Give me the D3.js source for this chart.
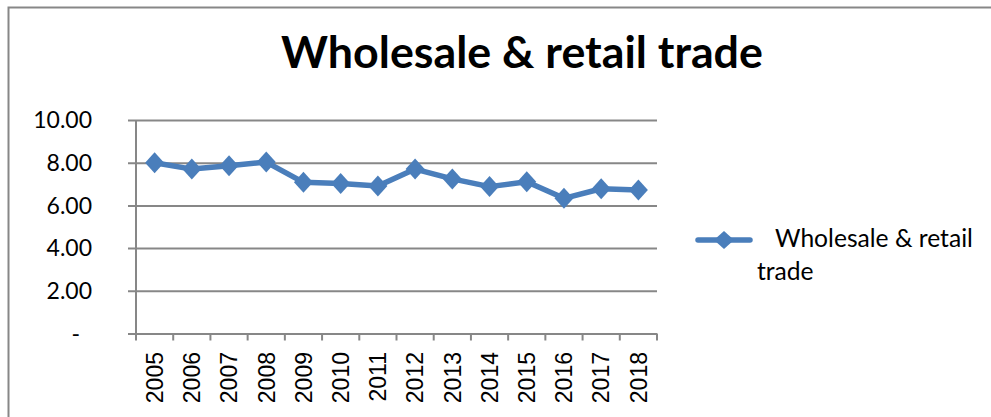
<!DOCTYPE html>
<html>
<head>
<meta charset="utf-8">
<script src="https://cdn.jsdelivr.net/npm/d3@7"></script>
<style>
    body { margin: 0; background: #fff; }
    svg { display: block; }
</style>
</head>
<body>
<svg id="chart" width="991" height="417"></svg>
<script>
'use strict';

// chart data
const years = ['2005', '2006', '2007', '2008', '2009', '2010', '2011',
    '2012', '2013', '2014', '2015', '2016', '2017', '2018'];
const tradeValues = [8.00, 7.70, 7.86, 8.03, 7.08, 7.03, 6.91,
    7.70, 7.24, 6.88, 7.11, 6.33, 6.78, 6.72];
const yTicks = [0, 2, 4, 6, 8, 10];
const seriesName = 'Wholesale & retail trade';
const chartTitle = 'Wholesale & retail trade';

const blue = '#4a7ebb';
const gray = '#878787';
const calibriLike = 'Lato, "Open Sans", sans-serif';
const arialLike = '"Liberation Sans", Arial, sans-serif';

const svg = d3.select('#chart');

// scale font so the text spans a given width
function fitWidth(sel, target) {
    const size = parseFloat(sel.attr('font-size'));
    const w = sel.node().getComputedTextLength();
    sel.attr('font-size', (size * target / w).toFixed(2));
}

// excel-style diamond, a bit taller than wide
function diamondPath(hw, hh) {
    return `M0,${-hh}L${hw},0L0,${hh}L${-hw},0Z`;
}

// outer frame (only top and left edges visible)
svg.append('path')
    .attr('d', 'M8.5,417 V7.5 H991')
    .attr('fill', 'none')
    .attr('stroke', gray)
    .attr('stroke-width', 2);

// title
const title = svg.append('text')
    .attr('x', 522)
    .attr('y', 67.5)
    .attr('text-anchor', 'middle')
    .attr('font-family', calibriLike)
    .attr('font-weight', 'bold')
    .attr('font-size', 38)
    .attr('fill', '#000')
    .text(chartTitle);
fitWidth(title, 482);

const plot = { left: 136, right: 657, top: 120, bottom: 333.5 };

const x = d3.scaleBand()
    .domain(years)
    .range([plot.left, plot.right]);

const y = d3.scaleLinear()
    .domain([0, 10])
    .range([plot.bottom, plot.top]);

// y axis with gridlines
const yAxis = svg.append('g')
    .attr('transform', `translate(${plot.left},0)`)
    .call(d3.axisLeft(y)
        .tickValues(yTicks)
        .tickSize(-(plot.right - plot.left))
        .tickPadding(44)
        .tickFormat((d) => d === 0 ? '-' : d3.format('.2f')(d)));

yAxis.select('.domain').remove();
yAxis.selectAll('.tick line')
    .attr('x1', -8)
    .attr('stroke', gray)
    .attr('stroke-width', 2);
yAxis.selectAll('.tick text')
    .attr('font-family', calibriLike)
    .attr('font-size', 23)
    .attr('fill', '#000')
    .attr('dy', '0.34em')
    .attr('dx', (d) => d === 0 ? -12 : 0);

// vertical axis line
svg.append('line')
    .attr('x1', plot.left).attr('x2', plot.left)
    .attr('y1', y(10)).attr('y2', y(0))
    .attr('stroke', gray)
    .attr('stroke-width', 2);

// category ticks on boundaries
const bounds = years.map((d) => x(d)).concat([plot.right]);
svg.append('g')
    .selectAll('line')
    .data(bounds)
    .enter()
    .append('line')
    .attr('x1', (d) => d).attr('x2', (d) => d)
    .attr('y1', y(0)).attr('y2', y(0) + 7)
    .attr('stroke', gray)
    .attr('stroke-width', 2);

// x labels, rotated
const xAxis = svg.append('g')
    .attr('transform', `translate(0,${y(0)})`)
    .call(d3.axisBottom(x).tickSize(0).tickPadding(0));
xAxis.select('.domain').remove();
xAxis.selectAll('.tick text')
    .attr('font-family', arialLike)
    .attr('font-size', 23)
    .attr('fill', '#000')
    .attr('text-anchor', 'end')
    .attr('transform', 'rotate(-90)')
    .attr('x', -18.5)
    .attr('y', 0)
    .attr('dy', '0.36em');

// series line
const line = d3.line()
    .x((d, i) => x(years[i]) + x.bandwidth() / 2)
    .y((d) => y(d));

svg.append('path')
    .datum(tradeValues)
    .attr('d', line)
    .attr('fill', 'none')
    .attr('stroke', blue)
    .attr('stroke-width', 5.5)
    .attr('stroke-linejoin', 'round');

svg.append('g')
    .selectAll('path')
    .data(tradeValues)
    .enter()
    .append('path')
    .attr('d', diamondPath(9.5, 10.5))
    .attr('transform', (d, i) =>
        `translate(${x(years[i]) + x.bandwidth() / 2},${y(d)})`)
    .attr('fill', blue);

// legend
const legend = svg.append('g');
legend.append('line')
    .attr('x1', 698).attr('x2', 750)
    .attr('y1', 240).attr('y2', 240)
    .attr('stroke', blue)
    .attr('stroke-width', 5.5)
    .attr('stroke-linecap', 'round');
legend.append('path')
    .attr('d', diamondPath(10, 9))
    .attr('transform', 'translate(724,240)')
    .attr('fill', blue);

const words = seriesName.split(' ');
const leg1 = legend.append('text')
    .attr('x', 775)
    .attr('y', 247)
    .attr('font-family', calibriLike)
    .attr('font-size', 21)
    .attr('fill', '#000')
    .text(words.slice(0, 3).join(' '));
fitWidth(leg1, 198);
legend.append('text')
    .attr('x', 757)
    .attr('y', 280)
    .attr('font-family', calibriLike)
    .attr('font-size', leg1.attr('font-size'))
    .attr('fill', '#000')
    .text(words.slice(3).join(' '));
</script>
</body>
</html>
